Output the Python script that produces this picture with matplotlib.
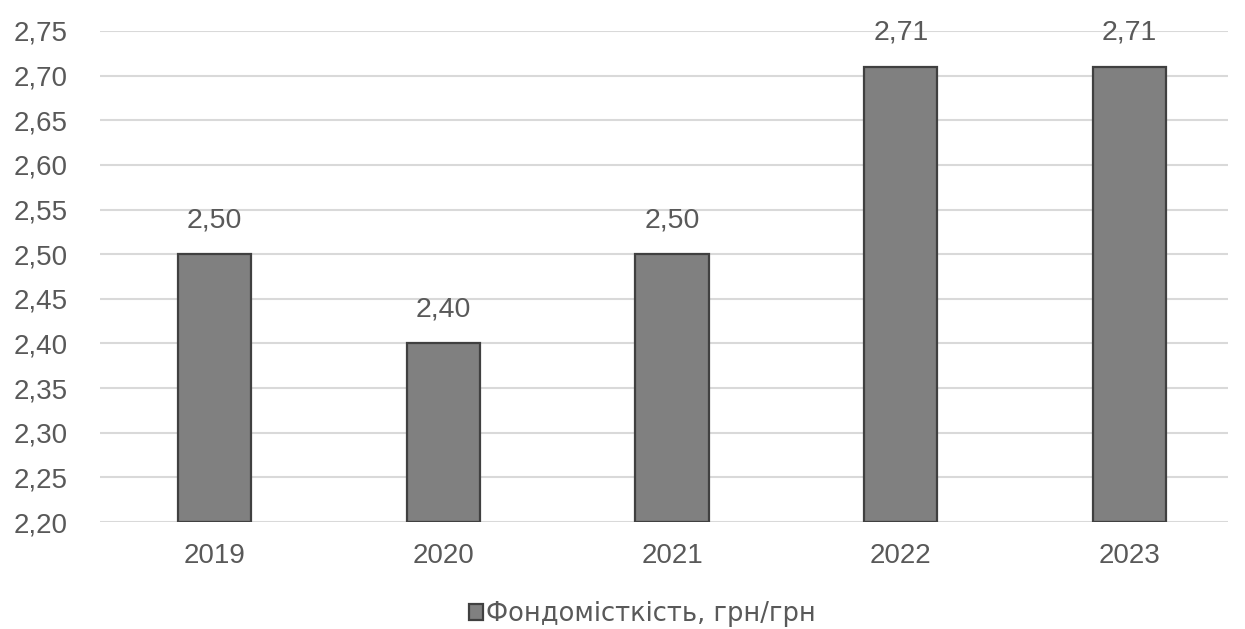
import matplotlib.pyplot as plt

years = ['2019', '2020', '2021', '2022', '2023']
values = [2.50, 2.40, 2.50, 2.71, 2.71]
y_ticks = [2.20, 2.25, 2.30, 2.35, 2.40, 2.45, 2.50, 2.55, 2.60, 2.65, 2.70, 2.75]
series_name = 'Фондомісткість, грн/грн'

TEXT = '#595959'
plt.rcParams['font.family'] = ['Liberation Sans', 'DejaVu Sans']


def fmt(v):
    return f'{v:.2f}'.replace('.', ',')


def main():
    fig = plt.figure(figsize=(12.45, 6.29), dpi=100)
    ax = fig.add_axes([100 / 1245, 107 / 629, 1128 / 1245, 491 / 629])

    x = range(len(years))
    bars = ax.bar(x, [v - 2.20 for v in values], bottom=2.20, width=0.32,
                  color='#808080', edgecolor='#404040', linewidth=1.6,
                  zorder=3, label=series_name)
    for b, v in zip(bars, values):
        ax.annotate(fmt(v), (b.get_x() + b.get_width() / 2, v),
                    xytext=(0, 24.5), textcoords='offset points',
                    ha='center', va='center', fontsize=20.5, color=TEXT)

    ax.set_ylim(2.20, 2.75)
    ax.set_xlim(-0.5, 4.43)
    ax.set_yticks(y_ticks)
    ax.set_yticklabels([fmt(t) for t in y_ticks])
    ax.set_xticks(list(x))
    ax.set_xticklabels(years)
    ax.tick_params(axis='both', length=0, labelsize=20, labelcolor=TEXT)
    ax.tick_params(axis='y', pad=23)
    ax.tick_params(axis='x', pad=15)
    ax.grid(axis='y', color='#d9d9d9', linewidth=1.5, zorder=0)
    for s in ax.spines.values():
        s.set_visible(False)

    fig.legend(loc='center', bbox_to_anchor=(0.516, 15 / 629), frameon=False,
               prop={'family': 'DejaVu Sans', 'size': 18.5}, labelcolor=TEXT,
               handlelength=0.55, handleheight=0.55, handletextpad=0.1,
               borderpad=0.1)
    fig.savefig('out.png')


if __name__ == '__main__':
    main()
